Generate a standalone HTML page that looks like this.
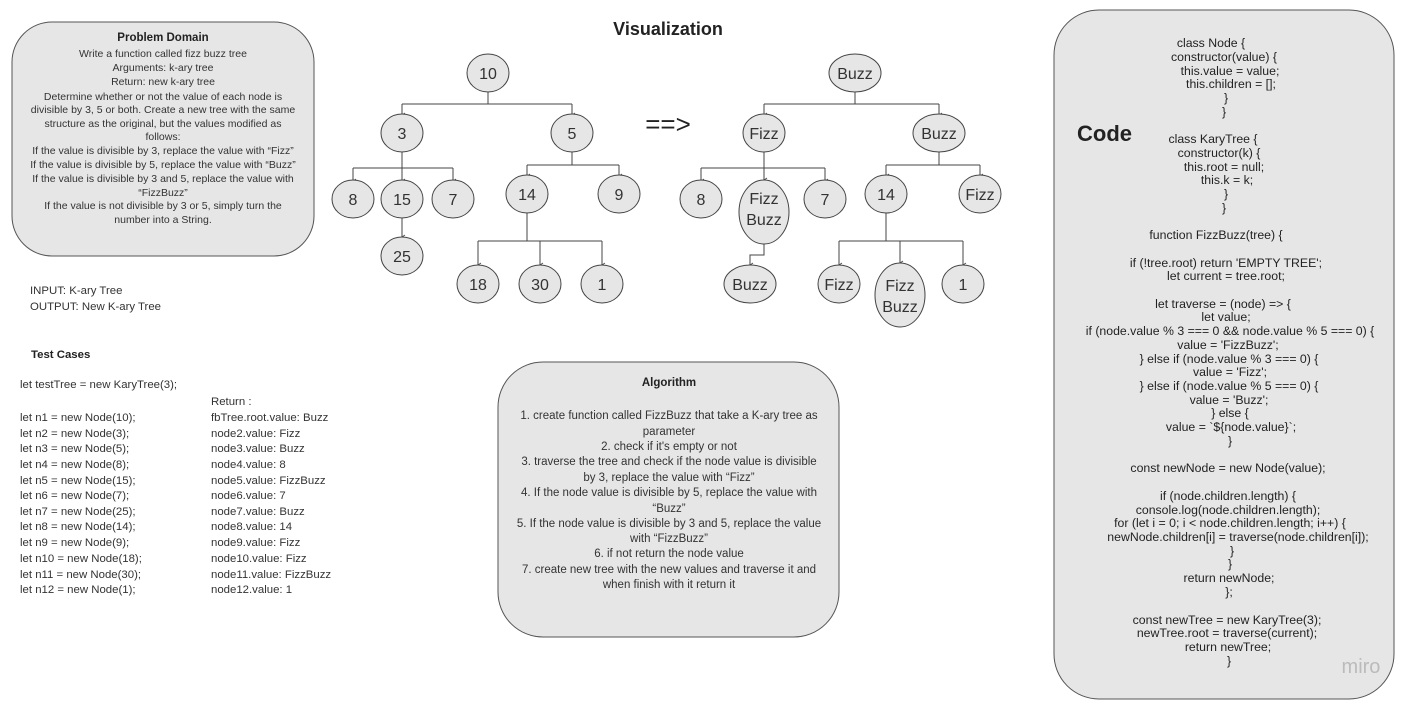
<!DOCTYPE html>
<html><head><meta charset="utf-8"><style>
html,body{margin:0;padding:0;background:#fff;}
svg{display:block;font-family:"Liberation Sans",sans-serif;}
.b{fill:#e6e6e6;stroke:#555;stroke-width:1;}
.e{fill:#e6e6e6;stroke:#444;stroke-width:1;}
.l{stroke:#444;stroke-width:1;fill:none;}
.n{font-size:16px;fill:#333;text-anchor:middle;}
.s{font-size:10.5px;fill:#333;text-anchor:middle;}
.al{font-size:11.5px;fill:#333;text-anchor:middle;}
.c{font-size:12.3px;fill:#222;text-anchor:middle;}
.t{font-size:11.4px;fill:#333;}
.h{font-size:11.5px;font-weight:bold;fill:#222;text-anchor:middle;}
</style></head><body>
<svg width="1415" height="706" viewBox="0 0 1415 706">
<defs><marker id="a" markerWidth="6" markerHeight="6" refX="3" refY="5" orient="auto-start-reverse" markerUnits="userSpaceOnUse"><path d="M1,2 L3,5 L5,2" fill="none" stroke="#444" stroke-width="0.8"/></marker></defs>

<rect class="b" x="12" y="22" width="302" height="234" rx="40"/>
<text class="h" x="163" y="41">Problem Domain</text>
<g class="s">
<text x="163" y="57">Write a function called fizz buzz tree</text>
<text x="163" y="71">Arguments: k-ary tree</text>
<text x="163" y="85">Return: new k-ary tree</text>
<text x="163" y="100">Determine whether or not the value of each node is</text>
<text x="163" y="113">divisible by 3, 5 or both. Create a new tree with the same</text>
<text x="163" y="127">structure as the original, but the values modified as</text>
<text x="163" y="140">follows:</text>
<text x="163" y="154">If the value is divisible by 3, replace the value with “Fizz”</text>
<text x="163" y="168">If the value is divisible by 5, replace the value with “Buzz”</text>
<text x="163" y="182">If the value is divisible by 3 and 5, replace the value with</text>
<text x="163" y="196">“FizzBuzz”</text>
<text x="163" y="209">If the value is not divisible by 3 or 5, simply turn the</text>
<text x="163" y="223">number into a String.</text>
</g>

<g class="t">
<text x="30" y="294">INPUT: K-ary Tree</text>
<text x="30" y="310">OUTPUT: New K-ary Tree</text>
<text x="31" y="358" font-weight="bold" fill="#222">Test Cases</text>
<text x="20" y="388">let testTree = new KaryTree(3);</text>
<text x="211" y="405">Return :</text>
<text x="20" y="421">let n1 = new Node(10);</text><text x="211" y="421">fbTree.root.value: Buzz</text>
<text x="20" y="437">let n2 = new Node(3);</text><text x="211" y="437">node2.value: Fizz</text>
<text x="20" y="452">let n3 = new Node(5);</text><text x="211" y="452">node3.value: Buzz</text>
<text x="20" y="468">let n4 = new Node(8);</text><text x="211" y="468">node4.value: 8</text>
<text x="20" y="484">let n5 = new Node(15);</text><text x="211" y="484">node5.value: FizzBuzz</text>
<text x="20" y="499">let n6 = new Node(7);</text><text x="211" y="499">node6.value: 7</text>
<text x="20" y="515">let n7 = new Node(25);</text><text x="211" y="515">node7.value: Buzz</text>
<text x="20" y="530">let n8 = new Node(14);</text><text x="211" y="530">node8.value: 14</text>
<text x="20" y="546">let n9 = new Node(9);</text><text x="211" y="546">node9.value: Fizz</text>
<text x="20" y="562">let n10 = new Node(18);</text><text x="211" y="562">node10.value: Fizz</text>
<text x="20" y="578">let n11 = new Node(30);</text><text x="211" y="578">node11.value: FizzBuzz</text>
<text x="20" y="593">let n12 = new Node(1);</text><text x="211" y="593">node12.value: 1</text>
</g>

<text x="668" y="35" font-size="18" font-weight="bold" fill="#222" text-anchor="middle">Visualization</text>
<text x="668" y="133" font-size="26" fill="#222" text-anchor="middle">==&gt;</text>

<path class="l" d="M488,91V104M402,104H572"/>
<path class="l" d="M402,104V115" marker-end="url(#a)"/><path class="l" d="M572,104V115" marker-end="url(#a)"/>
<path class="l" d="M402,151V168M353,168H453"/>
<path class="l" d="M353,168V181" marker-end="url(#a)"/><path class="l" d="M402,168V181" marker-end="url(#a)"/><path class="l" d="M453,168V181" marker-end="url(#a)"/>
<path class="l" d="M402,217V237" marker-end="url(#a)"/>
<path class="l" d="M572,151V165M527,165H619"/>
<path class="l" d="M527,165V176" marker-end="url(#a)"/><path class="l" d="M619,165V176" marker-end="url(#a)"/>
<path class="l" d="M527,212V241M478,241H602"/>
<path class="l" d="M478,241V265" marker-end="url(#a)"/><path class="l" d="M540,241V265" marker-end="url(#a)"/><path class="l" d="M602,241V265" marker-end="url(#a)"/>

<path class="l" d="M855,91V104M764,104H939"/>
<path class="l" d="M764,104V115" marker-end="url(#a)"/><path class="l" d="M939,104V115" marker-end="url(#a)"/>
<path class="l" d="M764,151V168M701,168H825"/>
<path class="l" d="M701,168V181" marker-end="url(#a)"/><path class="l" d="M764,168V180" marker-end="url(#a)"/><path class="l" d="M825,168V181" marker-end="url(#a)"/>
<path class="l" d="M764,244V255H750V265" marker-end="url(#a)"/>
<path class="l" d="M939,151V165M886,165H980"/>
<path class="l" d="M886,165V176" marker-end="url(#a)"/><path class="l" d="M980,165V176" marker-end="url(#a)"/>
<path class="l" d="M886,212V241M839,241H963"/>
<path class="l" d="M839,241V265" marker-end="url(#a)"/><path class="l" d="M900,241V263" marker-end="url(#a)"/><path class="l" d="M963,241V265" marker-end="url(#a)"/>

<g>
<ellipse class="e" cx="488" cy="73" rx="21" ry="19"/><text class="n" x="488" y="79">10</text>
<ellipse class="e" cx="402" cy="133" rx="21" ry="19"/><text class="n" x="402" y="139">3</text>
<ellipse class="e" cx="572" cy="133" rx="21" ry="19"/><text class="n" x="572" y="139">5</text>
<ellipse class="e" cx="353" cy="199" rx="21" ry="19"/><text class="n" x="353" y="205">8</text>
<ellipse class="e" cx="402" cy="199" rx="21" ry="19"/><text class="n" x="402" y="205">15</text>
<ellipse class="e" cx="453" cy="199" rx="21" ry="19"/><text class="n" x="453" y="205">7</text>
<ellipse class="e" cx="402" cy="256" rx="21" ry="19"/><text class="n" x="402" y="262">25</text>
<ellipse class="e" cx="527" cy="194" rx="21" ry="19"/><text class="n" x="527" y="200">14</text>
<ellipse class="e" cx="619" cy="194" rx="21" ry="19"/><text class="n" x="619" y="200">9</text>
<ellipse class="e" cx="478" cy="284" rx="21" ry="19"/><text class="n" x="478" y="290">18</text>
<ellipse class="e" cx="540" cy="284" rx="21" ry="19"/><text class="n" x="540" y="290">30</text>
<ellipse class="e" cx="602" cy="284" rx="21" ry="19"/><text class="n" x="602" y="290">1</text>
</g>
<g>
<ellipse class="e" cx="855" cy="73" rx="26" ry="19"/><text class="n" x="855" y="79">Buzz</text>
<ellipse class="e" cx="764" cy="133" rx="21" ry="19"/><text class="n" x="764" y="139">Fizz</text>
<ellipse class="e" cx="939" cy="133" rx="26" ry="19"/><text class="n" x="939" y="139">Buzz</text>
<ellipse class="e" cx="701" cy="199" rx="21" ry="19"/><text class="n" x="701" y="205">8</text>
<ellipse class="e" cx="764" cy="212" rx="25" ry="32"/><text class="n" x="764" y="204">Fizz</text><text class="n" x="764" y="225">Buzz</text>
<ellipse class="e" cx="825" cy="199" rx="21" ry="19"/><text class="n" x="825" y="205">7</text>
<ellipse class="e" cx="886" cy="194" rx="21" ry="19"/><text class="n" x="886" y="200">14</text>
<ellipse class="e" cx="980" cy="194" rx="21" ry="19"/><text class="n" x="980" y="200">Fizz</text>
<ellipse class="e" cx="750" cy="284" rx="26" ry="19"/><text class="n" x="750" y="290">Buzz</text>
<ellipse class="e" cx="839" cy="284" rx="21" ry="19"/><text class="n" x="839" y="290">Fizz</text>
<ellipse class="e" cx="900" cy="295" rx="25" ry="32"/><text class="n" x="900" y="291">Fizz</text><text class="n" x="900" y="312">Buzz</text>
<ellipse class="e" cx="963" cy="284" rx="21" ry="19"/><text class="n" x="963" y="290">1</text>
</g>

<rect class="b" x="498" y="362" width="341" height="275" rx="45"/>
<text class="h" x="669" y="386">Algorithm</text>
<g class="al">
<text x="669" y="419">1. create function called FizzBuzz that take a K-ary tree as</text>
<text x="669" y="435">parameter</text>
<text x="669" y="450">2. check if it's empty or not</text>
<text x="669" y="465">3. traverse the tree and check if the node value  is divisible</text>
<text x="669" y="481">by 3, replace the value with “Fizz”</text>
<text x="669" y="496">4. If the node value is divisible by 5, replace the value with</text>
<text x="669" y="512">“Buzz”</text>
<text x="669" y="527">5. If the node value is divisible by 3 and 5, replace the value</text>
<text x="669" y="542">with “FizzBuzz”</text>
<text x="669" y="557">6. if not return the node value</text>
<text x="669" y="573">7. create new tree with the new values and traverse it and</text>
<text x="669" y="588">when finish with it return it</text>
</g>

<rect class="b" x="1054" y="10" width="340" height="689" rx="45"/>
<text x="1077" y="141" font-size="22" font-weight="bold" fill="#222">Code</text>
<g class="c">
<text x="1211" y="47">class Node {</text>
<text x="1224" y="61">constructor(value) {</text>
<text x="1230" y="75">this.value = value;</text>
<text x="1231" y="88">this.children = [];</text>
<text x="1226" y="102">}</text>
<text x="1224" y="116">}</text>
<text x="1213" y="143">class KaryTree {</text>
<text x="1219" y="157">constructor(k) {</text>
<text x="1224" y="171">this.root = null;</text>
<text x="1227" y="184">this.k = k;</text>
<text x="1226" y="198">}</text>
<text x="1224" y="212">}</text>
<text x="1216" y="239">function FizzBuzz(tree) {</text>
<text x="1226" y="267">if (!tree.root) return 'EMPTY TREE';</text>
<text x="1226" y="280">let current = tree.root;</text>
<text x="1223" y="308">let traverse = (node) =&gt; {</text>
<text x="1226" y="321">let value;</text>
<text x="1230" y="335">if (node.value % 3 === 0 &amp;&amp; node.value % 5 === 0) {</text>
<text x="1228" y="349">value = 'FizzBuzz';</text>
<text x="1229" y="363">} else if (node.value % 3 === 0) {</text>
<text x="1230" y="376">value = 'Fizz';</text>
<text x="1229" y="390">} else if (node.value % 5 === 0) {</text>
<text x="1229" y="404">value = 'Buzz';</text>
<text x="1230" y="417">} else {</text>
<text x="1231" y="431">value = `${node.value}`;</text>
<text x="1230" y="445">}</text>
<text x="1228" y="472">const newNode = new Node(value);</text>
<text x="1228" y="500">if (node.children.length) {</text>
<text x="1228" y="514">console.log(node.children.length);</text>
<text x="1230" y="527">for (let i = 0; i &lt; node.children.length; i++) {</text>
<text x="1238" y="541">newNode.children[i] = traverse(node.children[i]);</text>
<text x="1232" y="555">}</text>
<text x="1230" y="568">}</text>
<text x="1229" y="582">return newNode;</text>
<text x="1229" y="596">};</text>
<text x="1227" y="624">const newTree = new KaryTree(3);</text>
<text x="1227" y="637">newTree.root = traverse(current);</text>
<text x="1228" y="651">return newTree;</text>
<text x="1229" y="665">}</text>
</g>
<text x="1361" y="673" font-size="20" fill="#bbb" text-anchor="middle">miro</text>
</svg>
</body></html>
